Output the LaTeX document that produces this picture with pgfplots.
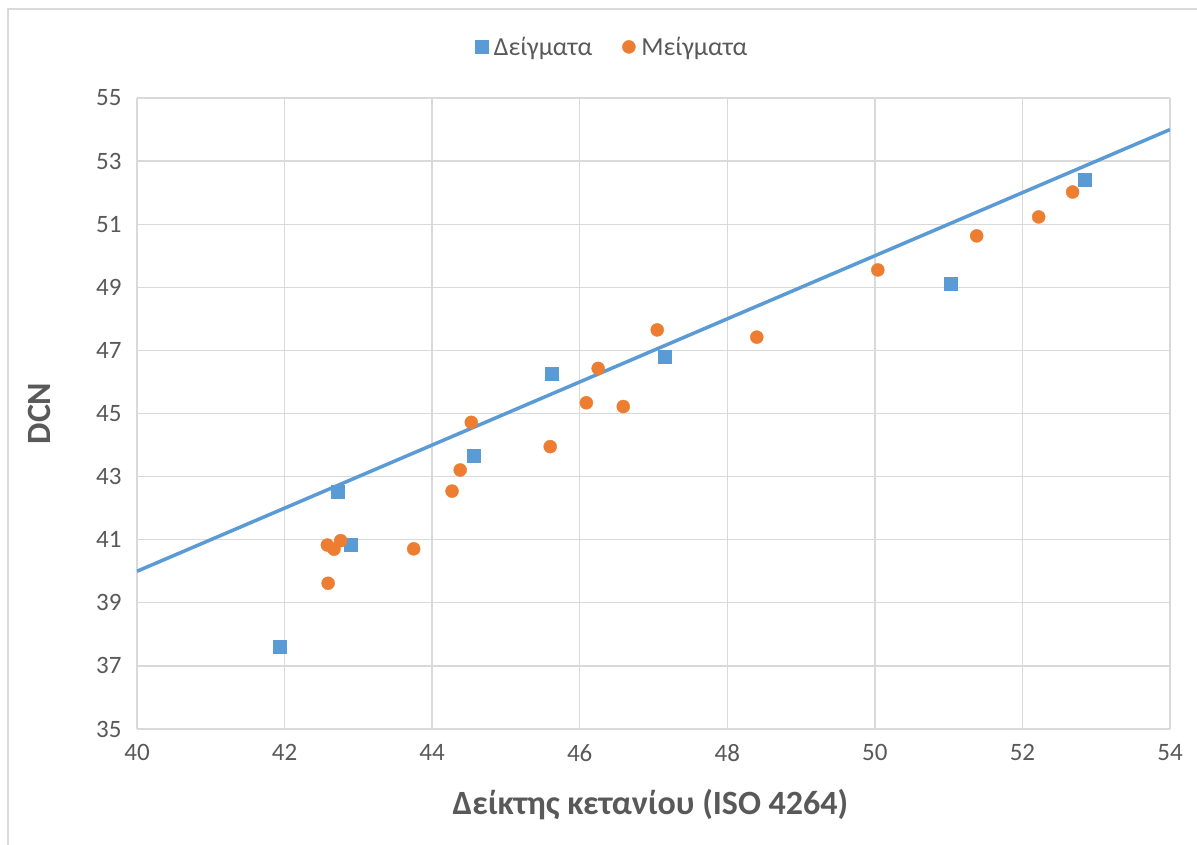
\documentclass[border=0pt]{standalone}
\usepackage{pgfplots}
\pgfplotsset{compat=1.18}
\usepackage{fontspec}
\setmainfont{Carlito}
\definecolor{seriesblue}{HTML}{5B9BD5}
\definecolor{seriesorange}{HTML}{ED7D31}
\definecolor{gridgray}{HTML}{D9D9D9}
\definecolor{textgray}{HTML}{595959}
\definecolor{framegray}{HTML}{D9D9D9}

\begin{document}
\begin{tikzpicture}
\useasboundingbox (0,0) rectangle (1197pt,-845pt);
\clip (0,0) rectangle (1197pt,-845pt);
\fill[white] (0,0) rectangle (1197pt,-845pt);
\draw[framegray, line width=1.5pt] (8pt,-9pt) rectangle (1215pt,-860pt);
\begin{axis}[
  at={(137pt,-729pt)}, anchor=south west,
  scale only axis, width=1033pt, height=631pt,
  xmin=40, xmax=54, ymin=35, ymax=55,
  xtick={40,42,...,54}, ytick={35,37,...,55},
  grid=major,
  major grid style={gridgray, line width=1.3pt},
  axis line style={gridgray, line width=1.3pt},
  axis x line*=bottom, axis y line*=left,
  tick style={draw=none},
  /pgf/number format/assume math mode=true,
  ticklabel style={font=\fontsize{25}{30}\selectfont, text=textgray},
  xticklabel style={yshift=-12pt},
  yticklabel style={xshift=-12pt},
  xlabel={\textbf{Δείκτης κετανίου (ISO 4264)}},
  ylabel={\textbf{DCN}},
  label style={font=\fontsize{34}{40}\selectfont, text=textgray},
  xlabel style={at={(0.497,0)}, anchor=center, yshift=-76pt},
  ylabel style={at={(-0.094,0.5)}, anchor=center, rotate=0},
  legend style={at={(0.46,1.081)}, anchor=center, draw=none, fill=none,
    font=\fontsize{26}{30}\selectfont, text=textgray,
    legend columns=2,
    /tikz/every odd column/.append style={column sep=4pt},
    /tikz/every even column/.append style={column sep=28pt}},
  legend cell align=left,
]
\addplot[only marks, mark=square*, mark size=6.5pt,
  mark options={draw=seriesblue, fill=seriesblue}] coordinates {
  (41.94,37.61) (42.72,42.52) (42.90,40.83) (44.56,43.65)
  (45.62,46.25) (47.15,46.80) (51.03,49.10) (52.85,52.40)
};
\addlegendentry{Δείγματα}
\addplot[only marks, mark=*, mark size=6.5pt,
  mark options={draw=seriesorange, fill=seriesorange}] coordinates {
  (42.58,40.83) (42.67,40.70) (42.76,40.97) (42.59,39.62)
  (43.75,40.71) (44.27,42.54) (44.38,43.21) (44.53,44.72)
  (45.60,43.95) (46.09,45.34) (46.25,46.43) (46.59,45.22)
  (47.05,47.65) (48.40,47.42) (50.04,49.55) (51.38,50.63)
  (52.22,51.23) (52.68,52.02)
};
\addlegendentry{Μείγματα}
\addplot[seriesblue, line width=3.5pt, forget plot] coordinates {(40,40) (54,54)};
\end{axis}
\end{tikzpicture}
\end{document}
